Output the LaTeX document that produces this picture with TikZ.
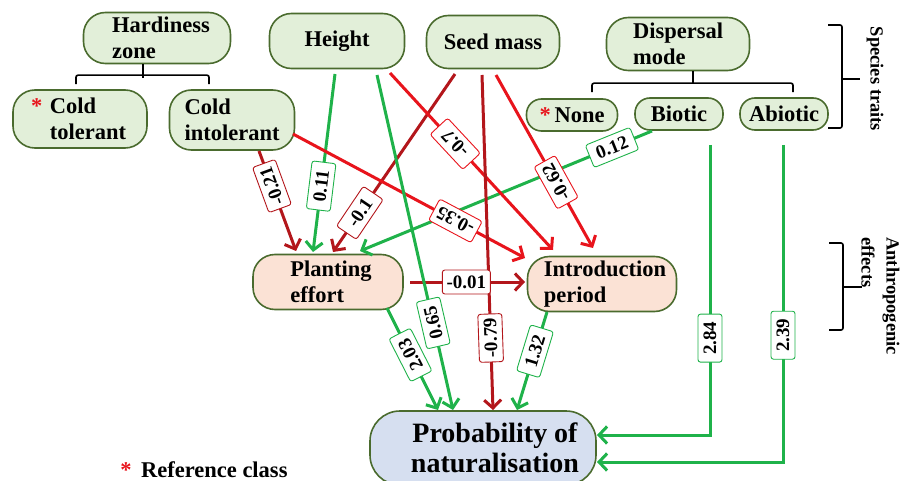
\documentclass[tikz,border=0pt]{standalone}
\usepackage{fontspec}
\setmainfont{Liberation Serif}
\usetikzlibrary{arrows.meta,calc}
\definecolor{nfill}{HTML}{E2EFD9}
\definecolor{nline}{HTML}{4A6B2E}
\definecolor{peach}{HTML}{FBE2D5}
\definecolor{pblue}{HTML}{D6DFF0}
\definecolor{gline}{HTML}{1FB24A}
\definecolor{rline}{HTML}{E8141C}
\definecolor{dline}{HTML}{B3161B}
\definecolor{astc}{HTML}{E8141C}
\begin{document}
\begin{tikzpicture}[x=1pt,y=-1pt,
  pill/.style={draw=nline, line width=1.6pt, fill=nfill, rounded corners=#1, inner sep=0pt, align=left, font=\bfseries\fontsize{22.5}{26}\selectfont},
  pill/.default=22pt,
  link/.style={line width=3pt, -{Straight Barb[length=8pt,width=17pt]}},
  coef/.style={draw=#1, fill=white, line width=0.9pt, rounded corners=2.5pt, minimum width=48pt, minimum height=24pt, inner sep=2pt, text=black, font=\bfseries\fontsize{19}{19}\selectfont},
  brk/.style={line width=1.6pt, black, rounded corners=2pt},
  side/.style={font=\bfseries\fontsize{18.5}{25}\selectfont, rotate=-90, inner sep=0pt, align=left}
]
\useasboundingbox (0,0) rectangle (904,481);

% nodes
\node[pill, minimum width=147pt, minimum height=51pt] (hz) at (157,38) {\hspace*{8pt}Hardiness\\\hspace*{8pt}zone};
\node[pill, minimum width=134pt, minimum height=58pt] (ct) at (80,119) {\hspace*{16pt}\llap{\textcolor{astc}{*}\,\,}Cold\\\hspace*{16pt}tolerant};
\node[pill, minimum width=125pt, minimum height=60pt] (ci) at (232,120) {Cold\\intolerant};
\node[pill, minimum width=135pt, minimum height=55pt] (ht) at (337,41) {Height};
\node[pill, minimum width=133pt, minimum height=53pt] (sm) at (493,42) {Seed mass};
\node[pill, minimum width=143pt, minimum height=53pt] (dm) at (678,44) {Dispersal\\mode};
\node[pill=15pt, minimum width=91pt, minimum height=32pt] (no) at (572,115) {\textcolor{astc}{*}\,None};
\node[pill=15pt, minimum width=88pt, minimum height=32pt] (bi) at (679,114) {Biotic};
\node[pill=15pt, minimum width=88pt, minimum height=32pt] (ab) at (784,114) {Abiotic};
\node[pill, fill=peach, minimum width=150pt, minimum height=55pt] (pe) at (328,282) {\hspace*{6pt}Planting\\\hspace*{6pt}effort};
\node[pill, fill=peach, minimum width=149pt, minimum height=55pt] (ip) at (602,284) {\hspace*{6pt}Introduction\\\hspace*{6pt}period};
\node[pill=30pt, fill=pblue, align=center, minimum width=226pt, minimum height=74pt, font=\bfseries\fontsize{28}{30}\selectfont] (pr) at (483,448) {\hspace*{24pt}Probability of\\\hspace*{24pt}naturalisation};

% brackets
\draw[brk] ([xshift=-14]hz.south) -- ++(0,13.5);
\draw[brk] ([shift={(-4,-5)}]ct.north) -- ++(0,-9) -| ([shift={(-23,-5)}]ci.north);
\draw[brk] ([xshift=15]dm.south) -- ++(0,13);
\draw[brk] ([shift={(20,-6)}]no.north) -- ++(0,-9) -| ([shift={(9,-5)}]ab.north);

% side braces
\draw[brk] (828,25) -- (842,25) -- (842,128) -- (828,128);
\draw[brk] (842,79) -- (860,79);
\draw[brk] (829,243) -- (843,243) -- (843,330) -- (829,330);
\draw[brk] (843,287) -- (862,287);
\node[side] (st) at (875,79) {Species traits};
\node[side, anchor=west] (ae) at (880.5,237) {Anthropogenic\\effects};

% connectors
\draw[link, dline] ([shift={(27,31)}]ci.center) -- coordinate[pos=.35] (c1) ([shift={(-32,-31)}]pe.center);
\draw[link, gline] ([shift={(-2,33)}]ht.center) -- coordinate[pos=.63] (c2) ([shift={(-15,-30)}]pe.center);
\draw[link, dline] ([shift={(-38,32)}]sm.center) -- coordinate[pos=.78] (c3) ([shift={(5,-30)}]pe.center);
\draw[link, gline] ([shift={(-27,17)}]bi.center) -- coordinate[pos=.137] (c4) ([shift={(32,-31)}]pe.center);
\draw[link, rline] ([shift={(53,32)}]ht.center) -- coordinate[pos=.40] (c5) ([shift={(-49,-34)}]ip.center);
\draw[link, rline] ([shift={(3,33)}]sm.center) -- coordinate[pos=.62] (c6) ([shift={(-9,-36)}]ip.center);
\draw[link, rline] ([shift={(61,14)}]ci.center) -- coordinate[pos=.70] (c7) ([shift={(-77,-26)}]ip.center);
\draw[link, dline] ([shift={(82,0)}]pe.center) -- coordinate[pos=.49] (c8) ([shift={(-77,-2)}]ip.center);
\draw[link, gline] ([shift={(59,26)}]pe.center) -- coordinate[pos=.46] (c9) ([shift={(-45,-38)}]pr.center);
\draw[link, gline] ([shift={(40,34)}]ht.center) -- coordinate[pos=.74] (c10) ([shift={(-30,-38)}]pr.center);
\draw[link, dline] ([shift={(-11,33)}]sm.center) -- coordinate[pos=.785] (c11) ([shift={(10,-38)}]pr.center);
\draw[link, gline] ([shift={(-55,28)}]ip.center) -- coordinate[pos=.40] (c12) ([shift={(34,-38)}]pr.center);
\draw[link, gline] ([shift={(31,31)}]bi.center) |- coordinate[pos=.333] (c13) ([shift={(114,-13)}]pr.center);
\draw[link, gline] ([shift={(-1,31)}]ab.center) |- coordinate[pos=.30] (c14) ([shift={(114,14)}]pr.center);

% coefficient labels
\node[coef=dline, rotate=110] (l1) at (c1) {-0.21};
\node[coef=gline, rotate=83] (l2) at (c2) {0.11};
\node[coef=dline, rotate=56] (l3) at (c3) {-0.1};
\node[coef=gline, rotate=22] (l4) at (c4) {0.12};
\node[coef=rline, rotate=133] (l5) at (c5) {-0.7};
\node[coef=rline, rotate=119] (l6) at (c6) {-0.62};
\node[coef=rline, rotate=152] (l7) at (c7) {-0.35};
\node[coef=dline] (l8) at (c8) {-0.01};
\node[coef=gline, rotate=117] (l9) at (c9) {2.03};
\node[coef=gline, rotate=103] (l10) at (c10) {0.65};
\node[coef=dline, rotate=92] (l11) at (c11) {-0.79};
\node[coef=gline, rotate=73] (l12) at (c12) {1.32};
\node[coef=gline, rotate=90] (l13) at (c13) {2.84};
\node[coef=gline, rotate=90] (l14) at (c14) {2.39};

% legend
\node[font=\bfseries\fontsize{22.5}{26}\selectfont, inner sep=0pt] (rc) at (204,470) {\textcolor{astc}{*}\, Reference class};
\end{tikzpicture}
\end{document}
